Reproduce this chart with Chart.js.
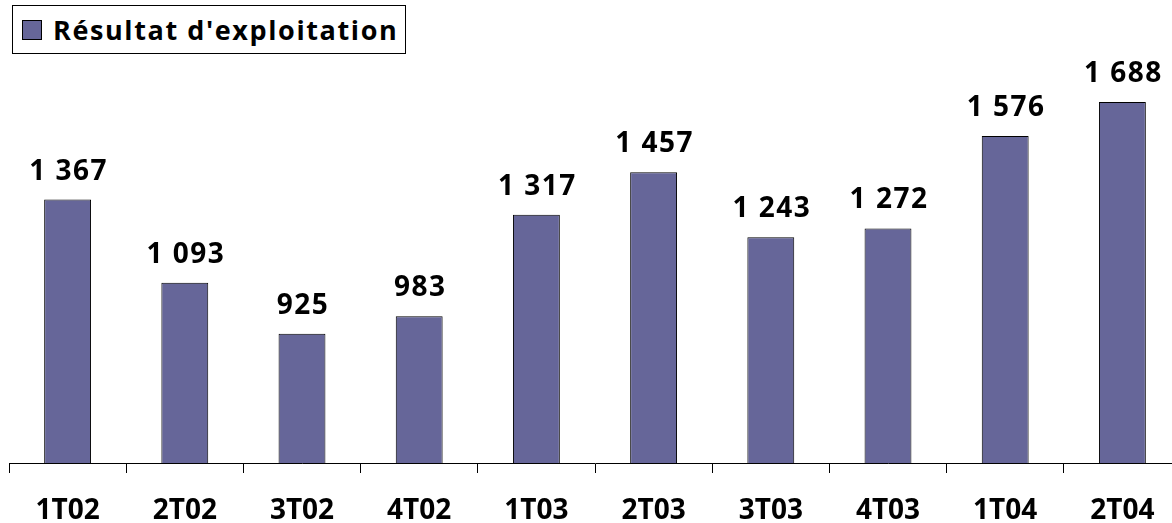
<!DOCTYPE html>
<html>
<head>
<meta charset="utf-8">
<script src="https://cdn.jsdelivr.net/npm/chart.js@4"></script>
<style>
  html, body { margin: 0; padding: 0; background: #ffffff; overflow: hidden; }
  #wrap { position: relative; width: 1200px; height: 523px; }
  #legend {
    position: absolute; left: 12px; top: 5px; width: 394px; height: 49px;
    border: 1px solid #000; background: #fff; box-sizing: border-box;
    font-family: "Open Sans", sans-serif; font-weight: 700; font-size: 27px;
    letter-spacing: 1.6px;
    display: flex; align-items: center; z-index: 2; white-space: nowrap;
  }
  #legend .sw {
    flex: none;
    width: 20px; height: 20px; background: #666699; border: 1px solid #000;
    box-sizing: border-box;
    margin-left: 9px; margin-right: 11px;
  }
</style>
</head>
<body>
<div id="wrap">
  <div id="legend"><span class="sw"></span><span id="legtext"></span></div>
  <canvas id="c" width="1200" height="523"></canvas>
</div>
<script>
const categories = ["1T02", "2T02", "3T02", "4T02", "1T03", "2T03", "3T03", "4T03", "1T04", "2T04"];
const resultatExploitation = [1367, 1093, 925, 983, 1317, 1457, 1243, 1272, 1576, 1688];
const seriesName = "Résultat d'exploitation";
const yMin = 500;
const yMax = 1800;

document.getElementById('legtext').textContent = seriesName;

function fmt(v) {
  return String(v).replace(/\B(?=(\d{3})+(?!\d))/g, ' ');
}

const valueLabels = {
  id: 'valueLabels',
  afterDatasetsDraw(chart) {
    const ctx = chart.ctx;
    ctx.save();
    ctx.font = 'bold 28px "Open Sans", sans-serif';
    if ('letterSpacing' in ctx) ctx.letterSpacing = '1.5px';
    ctx.fillStyle = '#000';
    ctx.textAlign = 'center';
    ctx.textBaseline = 'alphabetic';
    const meta = chart.getDatasetMeta(0);
    meta.data.forEach((bar, i) => {
      ctx.fillText(fmt(chart.data.datasets[0].data[i]), bar.x + 1, bar.y - 20);
    });
    ctx.restore();
  }
};

new Chart(document.getElementById('c'), {
  type: 'bar',
  data: {
    labels: categories,
    datasets: [{
      label: seriesName,
      data: resultatExploitation,
      backgroundColor: '#666699',
      borderColor: '#000000',
      borderWidth: 1,
      borderSkipped: 'bottom',
      categoryPercentage: 1.0,
      barPercentage: 0.4
    }]
  },
  options: {
    responsive: false,
    animation: false,
    layout: { padding: { top: 68, left: 9, right: 19, bottom: 0 } },
    plugins: {
      legend: { display: false },
      tooltip: { enabled: false }
    },
    scales: {
      x: {
        grid: {
          display: true,
          drawOnChartArea: false,
          drawTicks: true,
          tickLength: 10,
          color: '#000',
          offset: true
        },
        border: { display: true, color: '#000', width: 1 },
        ticks: {
          color: '#000',
          font: { family: '"Open Sans", sans-serif', size: 28, weight: 'bold' },
          padding: 21,
          maxRotation: 0,
          autoSkip: false
        },
        afterFit(scale) { scale.height = 60; }
      },
      y: {
        display: false,
        min: yMin,
        max: yMax
      }
    }
  },
  plugins: [valueLabels]
});
</script>
</body>
</html>
